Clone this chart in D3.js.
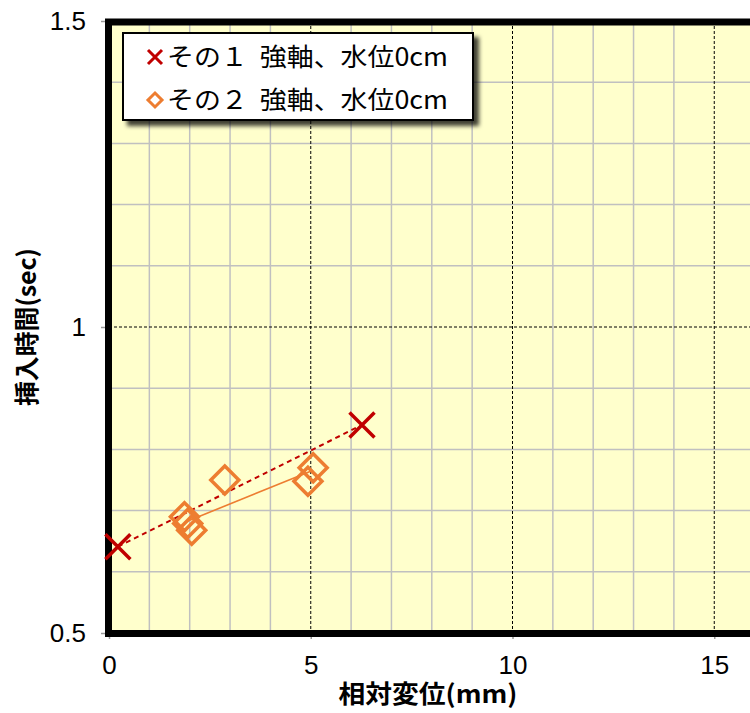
<!DOCTYPE html>
<html>
<head>
<meta charset="utf-8">
<script src="https://cdn.jsdelivr.net/npm/d3@7"></script>
<style>
  body { margin: 0; background: #fff; }
  svg { display: block; }
</style>
</head>
<body>
<div id="chart"></div>
<script>
// Scatter chart: insertion time vs relative displacement

// ---- data ----
const xTicks = [0, 5, 10, 15];
const yTicks = [0.5, 1, 1.5];
const xMinorGrid = d3.range(1, 20);          // every 1 mm
const yMinorGrid = [0.6, 0.7, 0.8, 0.9, 1.1, 1.2, 1.3, 1.4];

const series1X = [0.22, 6.27];
const series1Y = [0.641, 0.840];
const series2X = [1.87, 1.95, 2.05, 2.87, 4.93, 5.06];
const series2Y = [0.690, 0.679, 0.668, 0.750, 0.748, 0.770];
// line segments drawn in the original (trend lines)
const trend1 = [[0.22, 0.641], [6.27, 0.840]];
const trend2 = [[1.88, 0.681], [5.06, 0.766]];

const legendLabels = ['その１  強軸、水位0cm', 'その２  強軸、水位0cm'];

const red = '#C00000';
const orange = '#ED7D31';

// ---- layout ----
const W = 750, H = 713;
const svg = d3.select('#chart').append('svg')
    .attr('width', W)
    .attr('height', H);

const xScale = d3.scaleLinear().domain([0, 20]).range([109, 109 + 20 * 40.35]);
const yScale = d3.scaleLinear().domain([0.5, 1.5]).range([633, 21]);

const defs = svg.append('defs');
const shadow = defs.append('filter').attr('id', 'shadow')
    .attr('x', '-10%').attr('y', '-10%').attr('width', '130%').attr('height', '140%');
shadow.append('feDropShadow')
    .attr('dx', 5).attr('dy', 5).attr('stdDeviation', 2)
    .attr('flood-color', '#000').attr('flood-opacity', 0.75);

// plot background
svg.append('rect')
    .attr('x', xScale(0))
    .attr('y', yScale(1.5))
    .attr('width', W - xScale(0) + 10)
    .attr('height', yScale(0.5) - yScale(1.5))
    .attr('fill', '#FFFFCC');

// minor grid
const grid = svg.append('g');
grid.selectAll('.vx').data(xMinorGrid.filter(d => d % 5 !== 0)).enter()
    .append('line')
    .attr('x1', d => xScale(d)).attr('x2', d => xScale(d))
    .attr('y1', yScale(1.5)).attr('y2', yScale(0.5))
    .attr('stroke', '#C0C0C0').attr('stroke-width', 1.5);
grid.selectAll('.hy').data(yMinorGrid).enter()
    .append('line')
    .attr('x1', xScale(0)).attr('x2', W + 10)
    .attr('y1', d => yScale(d)).attr('y2', d => yScale(d))
    .attr('stroke', '#C0C0C0').attr('stroke-width', 1.5);

// major grid (dashed)
grid.selectAll('.mx').data(xTicks.filter(d => d > 0)).enter()
    .append('line')
    .attr('x1', d => xScale(d)).attr('x2', d => xScale(d))
    .attr('y1', yScale(1.5)).attr('y2', yScale(0.5))
    .attr('stroke', '#000').attr('stroke-width', 1)
    .attr('stroke-dasharray', '3,2');
grid.append('line')
    .attr('x1', xScale(0)).attr('x2', W + 10)
    .attr('y1', yScale(1)).attr('y2', yScale(1))
    .attr('stroke', '#000').attr('stroke-width', 1)
    .attr('stroke-dasharray', '3,2');

// axes (tick labels only, small gray ticks)
const xAxis = d3.axisBottom(xScale).tickValues(xTicks).tickSize(6).tickPadding(17)
    .tickFormat(d3.format('d'));
const yAxis = d3.axisLeft(yScale).tickValues(yTicks).tickSize(8).tickPadding(15)
    .tickFormat(d => d === 1 ? '1' : d3.format('.1f')(d));

const gx = svg.append('g').attr('transform', `translate(0,${yScale(0.5)})`).call(xAxis);
const gy = svg.append('g').attr('transform', `translate(${xScale(0)},0)`).call(yAxis);
[gx, gy].forEach(g => {
    g.select('.domain').remove();
    g.selectAll('.tick line').attr('stroke', '#999').attr('stroke-width', 1.5);
    g.selectAll('.tick text')
        .attr('fill', '#000')
        .style('font-family', '"Liberation Sans", Arial, sans-serif')
        .style('font-size', '26px');
});

// frame
svg.append('path')
    .attr('d', `M${W + 10},${yScale(1.5) + 1} H${xScale(0) - 0.5} V${yScale(0.5) + 0.5} H${W + 10}`)
    .attr('fill', 'none')
    .attr('stroke', '#000')
    .attr('stroke-width', 7);

// trend lines
const line = d3.line().x(d => xScale(d[0])).y(d => yScale(d[1]));
svg.append('path').datum(trend1)
    .attr('d', line)
    .attr('fill', 'none').attr('stroke', red)
    .attr('stroke-width', 2).attr('stroke-dasharray', '5,4');
svg.append('path').datum(trend2)
    .attr('d', line)
    .attr('fill', 'none').attr('stroke', orange)
    .attr('stroke-width', 1.6);

// markers
function crossPath(s) {
    return `M${-s},${-s}L${s},${s}M${-s},${s}L${s},${-s}`;
}
function diamondPath(s) {
    return `M0,${-s}L${s},0L0,${s}L${-s},0Z`;
}

const pts2 = series2X.map((x, i) => [x, series2Y[i]]);
svg.append('g').selectAll('path').data(pts2).enter()
    .append('path')
    .attr('transform', d => `translate(${xScale(d[0])},${yScale(d[1])})`)
    .attr('d', diamondPath(14))
    .attr('fill', 'none').attr('stroke', orange).attr('stroke-width', 3.5);

const pts1 = series1X.map((x, i) => [x, series1Y[i]]);
svg.append('g').selectAll('path').data(pts1).enter()
    .append('path')
    .attr('transform', d => `translate(${xScale(d[0])},${yScale(d[1])})`)
    .attr('d', crossPath(12.5))
    .attr('fill', 'none').attr('stroke', red).attr('stroke-width', 3.5);

// axis titles
svg.append('text')
    .attr('x', 428).attr('y', 703)
    .attr('text-anchor', 'middle')
    .attr('textLength', 179).attr('lengthAdjust', 'spacingAndGlyphs')
    .style('font-family', '"Noto Sans CJK JP", sans-serif')
    .style('font-weight', 'bold')
    .style('font-size', '25px')
    .text('相対変位(mm)');

svg.append('text')
    .attr('transform', 'translate(36,327) rotate(-90)')
    .attr('text-anchor', 'middle')
    .attr('textLength', 158).attr('lengthAdjust', 'spacingAndGlyphs')
    .style('font-family', '"Noto Sans CJK JP", sans-serif')
    .style('font-weight', 'bold')
    .style('font-size', '25px')
    .text('挿入時間(sec)');

// legend
const legend = svg.append('g').attr('transform', 'translate(123,33)');
legend.append('rect')
    .attr('width', 350).attr('height', 87)
    .attr('fill', '#fff').attr('stroke', '#000').attr('stroke-width', 2)
    .attr('filter', 'url(#shadow)');

legendLabels.forEach((label, i) => {
    const row = legend.append('g').attr('transform', `translate(32,${24 + i * 43})`);
    if (i === 0) {
        row.append('path').attr('d', crossPath(7))
            .attr('fill', 'none').attr('stroke', red).attr('stroke-width', 3);
    } else {
        row.append('path').attr('d', diamondPath(7))
            .attr('fill', 'none').attr('stroke', orange).attr('stroke-width', 3);
    }
    row.append('text')
        .attr('x', 12).attr('y', 9)
        .attr('textLength', 281).attr('lengthAdjust', 'spacingAndGlyphs')
        .style('font-family', '"Noto Sans CJK JP", sans-serif')
        .style('font-size', '25px')
        .style('white-space', 'pre')
        .text(label);
});
</script>
</body>
</html>
